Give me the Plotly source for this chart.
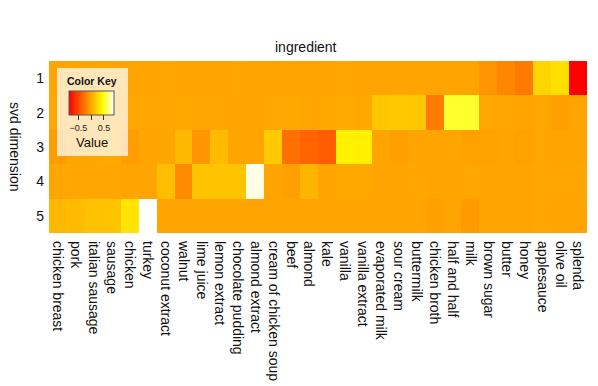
import plotly.graph_objects as go

ingredients = [
    "chicken breast", "pork", "italian sausage", "sausage", "chicken", "turkey",
    "coconut extract", "walnut", "lime juice", "lemon extract", "chocolate pudding",
    "almond extract", "cream of chicken soup", "beef", "almond", "kale", "vanilla",
    "vanilla extract", "evaporated milk", "sour cream", "buttermilk", "chicken broth",
    "half and half", "milk", "brown sugar", "butter", "honey", "applesauce",
    "olive oil", "splenda",
]
dimensions = ["1", "2", "3", "4", "5"]

dim1 = [-0.03, -0.03, -0.03, -0.03, -0.03, -0.03, -0.02, -0.03, -0.03, -0.03,
        -0.02, -0.03, -0.03, -0.03, -0.03, -0.03, -0.02, -0.03, -0.03, -0.03,
        -0.03, -0.03, -0.03, -0.03, -0.11, -0.18, -0.25, 0.22, 0.28, -0.88]
dim2 = [-0.02, -0.02, -0.02, -0.02, -0.02, -0.02, -0.02, -0.01, -0.02, -0.02,
        -0.03, -0.03, -0.02, -0.01, -0.02, -0.01, 0.00, -0.01, 0.15, 0.16,
        0.15, -0.25, 0.52, 0.52, -0.02, -0.02, -0.03, -0.02, -0.05, -0.03]
dim3 = [-0.07, -0.03, -0.03, -0.01, -0.07, -0.03, -0.02, 0.07, -0.11, 0.09,
        -0.03, -0.03, 0.17, -0.30, -0.36, -0.40, 0.37, 0.36, -0.03, -0.05,
        -0.03, -0.03, -0.02, -0.04, -0.04, -0.03, -0.04, -0.02, -0.03, -0.03]
dim4 = [-0.02, -0.02, -0.02, -0.02, -0.03, -0.03, 0.11, -0.16, 0.13, 0.13,
        0.13, 0.84, -0.03, -0.05, 0.05, -0.03, -0.01, -0.01, -0.03, -0.03,
        -0.02, -0.03, -0.03, -0.02, -0.03, -0.03, -0.03, -0.02, -0.02, -0.02]
dim5 = [0.075, 0.09, 0.12, 0.13, 0.30, 0.88, -0.03, -0.03, -0.03, -0.03,
        -0.03, -0.03, -0.03, -0.03, -0.03, -0.03, -0.03, -0.03, -0.03, -0.03,
        -0.03, -0.05, -0.03, -0.08, -0.03, -0.03, -0.03, -0.02, -0.03, -0.03]

key_ticks = [-0.5, 0, 0.5]
key_labels = ["\u22120.5", "", "0.5"]

W, H = 598, 386
L, R, T, B = 49, 11, 61, 153
font = "Liberation Sans, Arial, sans-serif"


def px(x):
    return (x - L) / (W - L - R)


def py(y):
    return 1 - (y - T) / (H - T - B)


def label(text, x, y, size, angle=0):
    fig.add_annotation(text=text, xref="paper", yref="paper",
                       x=px(x), y=py(y), xanchor="center", yanchor="middle",
                       showarrow=False, textangle=angle,
                       font=dict(family=font, size=size, color="#111111"))


heat = [[0, "#FF0000"], [0.75, "#FFFF00"], [1, "#FFFFFF"]]

fig = go.Figure(go.Heatmap(
    z=[dim1, dim2, dim3, dim4, dim5],
    x=ingredients,
    y=dimensions,
    colorscale=heat,
    zmin=-0.88, zmax=0.88,
    colorbar=dict(
        orientation="h",
        x=px(91.2), xanchor="center",
        y=py(91), yanchor="top",
        len=45, lenmode="pixels",
        thickness=24, thicknessmode="pixels",
        outlinewidth=1, outlinecolor="#555555",
        tickvals=key_ticks, ticktext=key_labels,
        ticks="outside", ticklen=5, tickcolor="#333333",
        tickfont=dict(family=font, size=9, color="#222222"),
        xpad=0, ypad=0,
    ),
))

# color key background
fig.add_shape(type="rect", xref="paper", yref="paper",
              x0=px(57), x1=px(128), y0=py(156), y1=py(68),
              fillcolor="rgba(255,255,255,0.72)", line=dict(width=0),
              layer="above")
label("<b>Color Key</b>", 92, 81, 10.5)
label("Value", 92, 142, 13)
label("ingredient", 306, 47, 14)
label("svd dimension", 15, 147, 14, angle=90)

fig.update_xaxes(tickangle=90, ticks="", showgrid=False, zeroline=False,
                 automargin=False, ticklabelstandoff=7,
                 tickfont=dict(family=font, size=14, color="#111111"))
fig.update_yaxes(autorange="reversed", ticks="", showgrid=False, zeroline=False,
                 automargin=False, ticklabelstandoff=4,
                 tickfont=dict(family=font, size=14, color="#111111"))

fig.update_layout(
    width=W, height=H,
    margin=dict(l=L, r=R, t=T, b=B, autoexpand=False),
    paper_bgcolor="white", plot_bgcolor="white",
)

# page body has a default 8px margin; drop it so the figure sits at 0,0
fig.write_html("out.html", config={"displayModeBar": False},
               post_script="document.body.style.margin='0';")
